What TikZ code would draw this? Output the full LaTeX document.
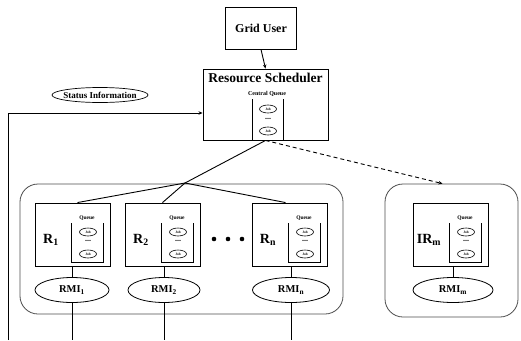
\documentclass[tikz,border=0pt]{standalone}
\usepackage{fontspec}
\setmainfont{Liberation Serif}
\usetikzlibrary{arrows.meta,shapes.geometric,calc}
\newcommand\fs[1]{\fontsize{#1}{#1}\selectfont\bfseries}
\begin{document}
\begin{tikzpicture}[x=1pt,y=-1pt,
  box/.style={draw,line width=0.9pt,inner sep=0pt},
  cont/.style={draw=black!70,line width=0.8pt,rounded corners=18pt,inner sep=0pt},
  job/.style={draw,ellipse,line width=0.6pt,minimum width=17pt,minimum height=8pt,inner sep=0pt,font=\fs{3.5}},
  rmi/.style={draw,ellipse,line width=0.8pt,minimum height=25pt,inner sep=0pt,font=\fs{10.5}},
  lbl/.style={inner sep=0pt},
  conn/.style={line width=0.9pt},
  arr/.style={line width=0.9pt,-{Stealth[length=4pt,width=3.5pt]}},
  ql/.style={line width=0.6pt}]
\useasboundingbox (0,0) rectangle (521,340);
% top
\node[box,minimum width=71pt,minimum height=42pt,font=\fs{12}] (gu) at (261,28) {Grid User};
\node[box,minimum width=125pt,minimum height=71pt] (rs) at (265.5,104.5) {};
\node[lbl,font=\fs{13.5}] (rstitle) at (265.5,78) {Resource Scheduler};
\node[lbl,font=\fs{6}] (cq) at (267,94) {Central Queue};
\draw[ql] (252,99) -- (252,140) (283,99) -- (283,140);
\node[job] (rsj1) at (268,109) {Job};
\node[lbl,font=\fs{8}] (rsd) at (268,119) {...};
\node[job] (rsj2) at (268,131) {Job};
\draw[arr] (gu.south) -- (rs.north);
% status
\node[lbl,font=\fs{9}] (si) at (100,95) {Status Information};
\draw[line width=0.7pt] (si.center) ellipse (48pt and 7.5pt);
\coordinate (sbot) at (8,340);
\coordinate (sh) at (8,113);
\draw[arr] (sbot) -- (sh) -- (sh -| rs.west);
% containers
\node[cont,minimum width=323pt,minimum height=130pt] (lc) at (181.5,249) {};
\node[cont,minimum width=133pt,minimum height=133pt] (rc) at (451.5,250.5) {};
% resource boxes
\foreach \nm/\dx/\lab/\sub in {r1/0/R/1, r2/90/R/2, rn/217/R/n, rm/378/IR/m}{
  \node[box,minimum width=75pt,minimum height=63pt] (\nm) at (72.5+\dx,234.5) {};
  \node[lbl,font=\fs{14}] (\nm l) at (51+\dx,240) {\lab$_{\mathbf{\sub}}$};
  \node[lbl,font=\fs{5.5}] (\nm q) at (87+\dx,218) {Queue};
  \draw[ql] (71+\dx,223) -- (71+\dx,262) -- (103+\dx,262) -- (103+\dx,223);
  \node[job] (\nm a) at (88+\dx,232) {Job};
  \node[lbl,font=\fs{8}] (\nm d) at (88+\dx,241) {...};
  \node[job] (\nm b) at (88+\dx,254) {Job};
}
\node[rmi,minimum width=74pt] (rmi1) at (72,290) {RMI$_{\mathbf{1}}$};
\node[rmi,minimum width=72pt] (rmi2) at (164,290) {RMI$_{\mathbf{2}}$};
\node[rmi,minimum width=77pt] (rmin) at (291,290) {RMI$_{\mathbf{n}}$};
\node[rmi,minimum width=80pt] (rmim) at (453,290) {RMI$_{\mathbf{m}}$};
\foreach \nm/\rb in {rmi1/r1, rmi2/r2, rmin/rn, rmim/rm}{
  \draw[conn] (\nm.north) -- (\nm.north |- \rb.south);
}
\coordinate (b1) at (72,340);
\coordinate (b2) at (164,340);
\coordinate (bn) at (291,340);
\draw[conn] (rmi1.south) -- (b1);
\draw[conn] (rmi2.south) -- (b2);
\draw[conn] (rmin.south) -- (bn);
% dots
\foreach \x in {214,228,242}{\fill (\x,239) circle (2.3pt);}
% links
\coordinate (jn) at (185,183);
\draw[conn] (rs.south) -- (jn);
\draw[conn] (jn) -- ($(r1.north)+(5,0)$);
\draw[conn] (jn) -- (r2.north);
\draw[conn] (jn) -- ($(rn.north)+(-4,0)$);
\draw[arr,dashed,dash pattern=on 4pt off 3pt] (rs.south) -- ($(rc.north)+(-9,0)$);
\end{tikzpicture}
\end{document}
